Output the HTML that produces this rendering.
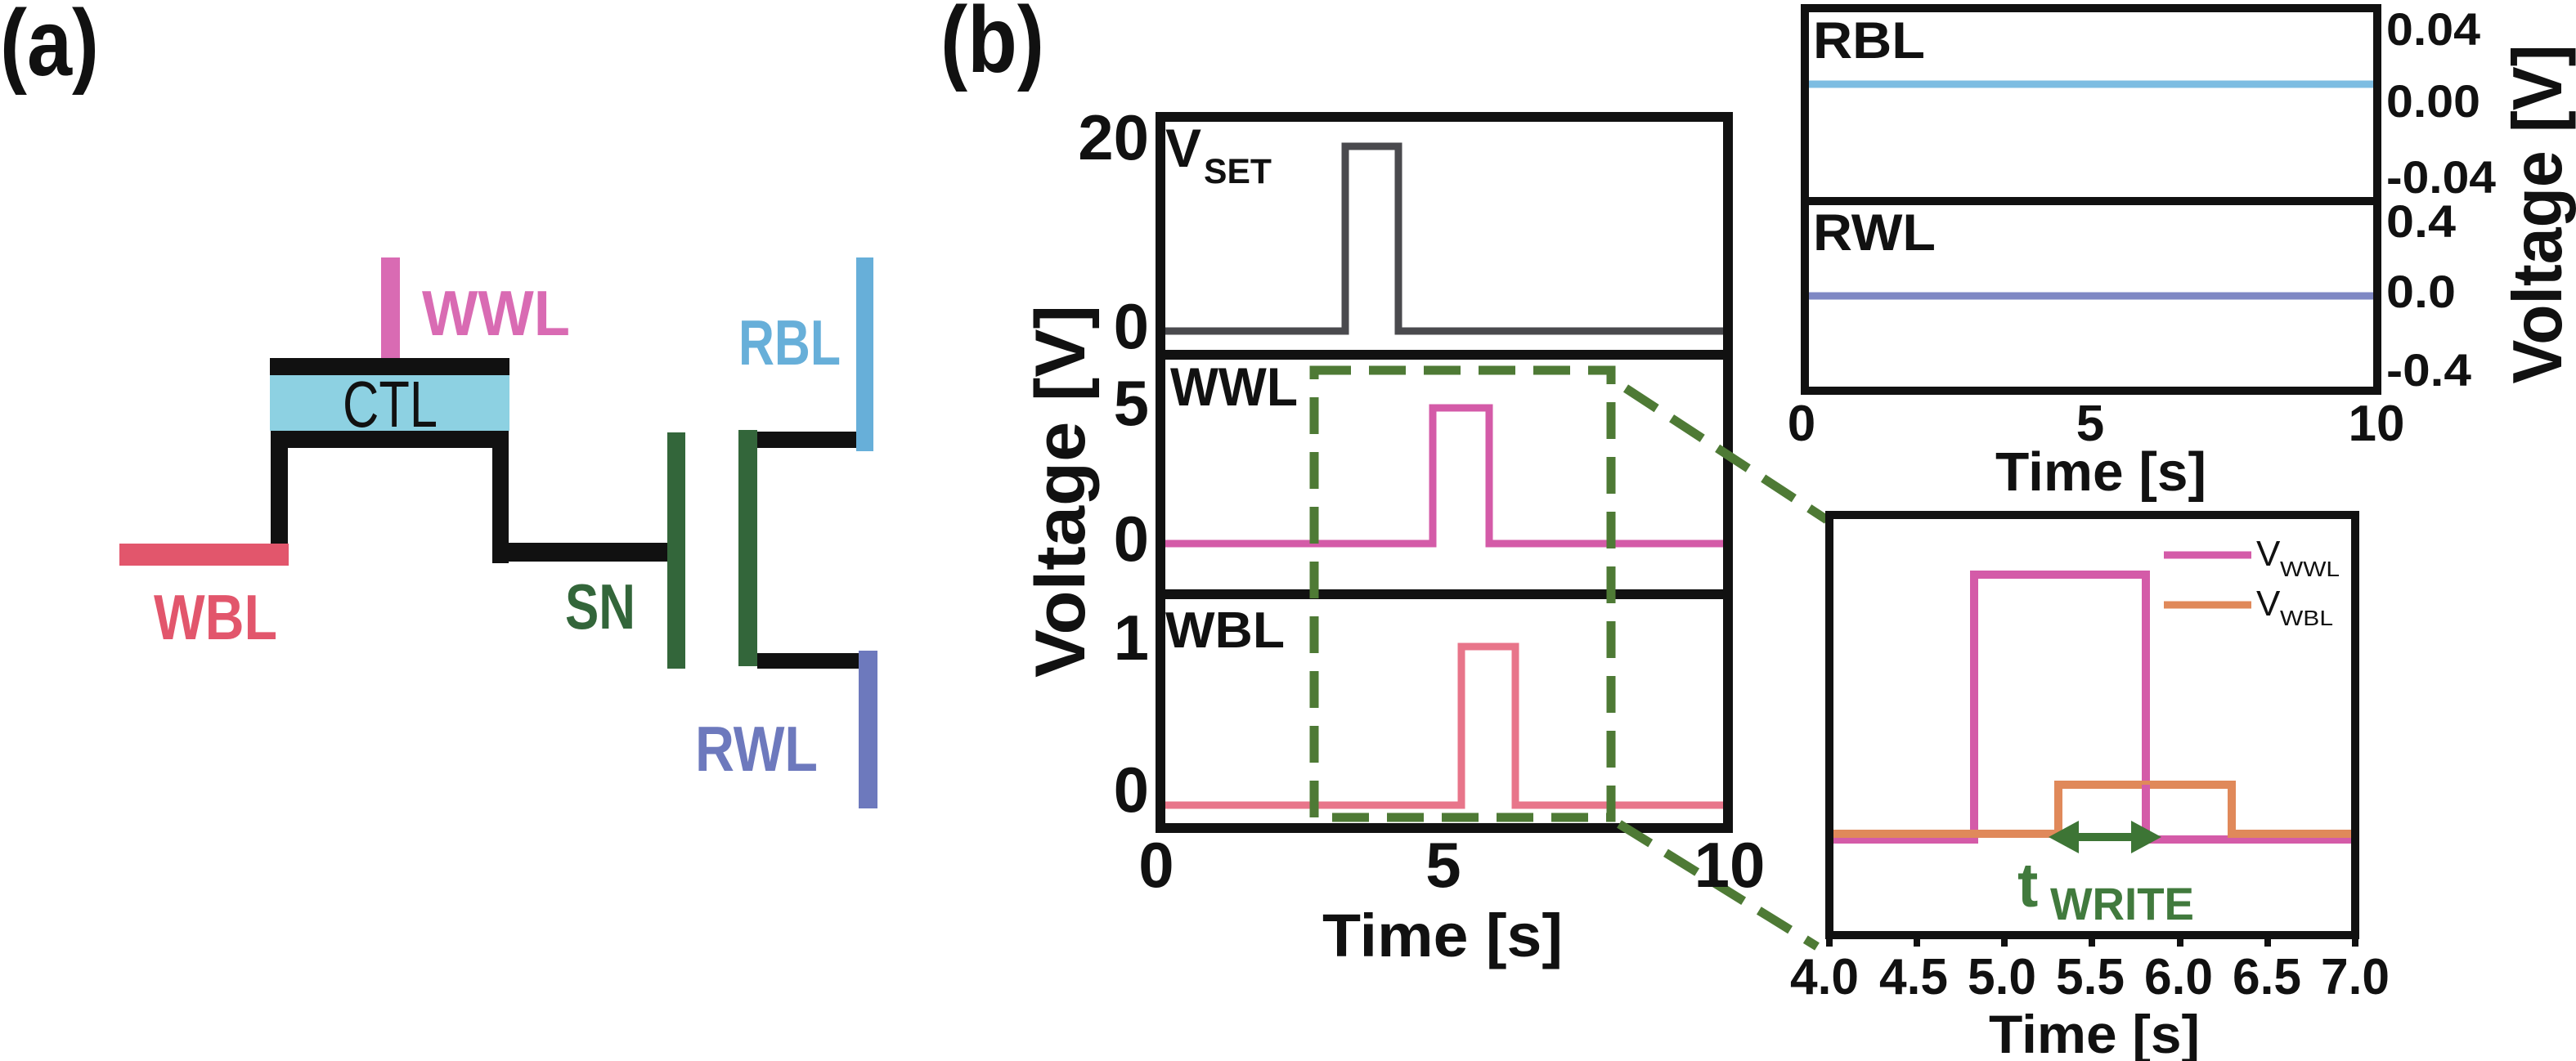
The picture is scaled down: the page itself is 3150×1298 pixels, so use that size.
<!DOCTYPE html>
<html><head><meta charset="utf-8"><style>
html,body{margin:0;padding:0;background:#fff;}
svg{display:block;}
text{font-family:"Liberation Sans",sans-serif;}
.b{font-weight:bold;}
.m{font-weight:600;}
</style></head><body>
<svg width="3150" height="1298" viewBox="0 0 3150 1298" xmlns="http://www.w3.org/2000/svg">
<!-- (a) circuit -->
<text class="b" x="0" y="92" font-size="115" textLength="121" lengthAdjust="spacingAndGlyphs" fill="#111">(a)</text>
<rect x="466" y="315" width="23" height="130" fill="#d96bb3"/>
<rect x="330" y="438" width="293" height="21" fill="#111"/>
<rect x="330" y="459" width="293" height="68" fill="#8dd1e2"/>
<rect x="331" y="527" width="291" height="21" fill="#111"/>
<rect x="331" y="527" width="21" height="144" fill="#111"/>
<rect x="146" y="665" width="207" height="27" fill="#e2566c"/>
<rect x="602" y="527" width="20" height="162" fill="#111"/>
<rect x="602" y="664" width="215" height="23" fill="#111"/>
<rect x="816" y="529" width="22" height="289" fill="#33663a"/>
<rect x="903" y="526" width="23" height="289" fill="#33663a"/>
<rect x="926" y="528" width="122" height="20" fill="#111"/>
<rect x="1047" y="315" width="21" height="237" fill="#67afd9"/>
<rect x="926" y="799" width="125" height="19" fill="#111"/>
<rect x="1050" y="796" width="23" height="193" fill="#6d79bd"/>
<text class="m" x="516" y="410" font-size="78" textLength="181" lengthAdjust="spacingAndGlyphs" fill="#d96bb3">WWL</text>
<text class="m" x="903" y="446" font-size="78" textLength="125" lengthAdjust="spacingAndGlyphs" fill="#67afd9">RBL</text>
<text x="419" y="522" font-size="80" textLength="116" lengthAdjust="spacingAndGlyphs" fill="#111">CTL</text>
<text class="m" x="188" y="782" font-size="78" textLength="151" lengthAdjust="spacingAndGlyphs" fill="#e2566c">WBL</text>
<text class="m" x="691" y="769" font-size="78" textLength="86" lengthAdjust="spacingAndGlyphs" fill="#33663a">SN</text>
<text class="m" x="850" y="943" font-size="78" textLength="150" lengthAdjust="spacingAndGlyphs" fill="#6d79bd">RWL</text>

<!-- (b) -->
<text class="b" x="1150" y="88" font-size="115" textLength="127" lengthAdjust="spacingAndGlyphs" fill="#111">(b)</text>

<!-- left chart traces -->
<g fill="none" stroke-width="9" stroke-linejoin="miter">
<path d="M1425 405 H1645 V179 H1710 V405 H2107" stroke="#4a4a4e"/>
<path d="M1425 665 H1752 V499 H1821 V665 H2107" stroke="#d45ba8"/>
<path d="M1425 985 H1787 V791 H1853 V985 H2107" stroke="#e8758a"/>
</g>
<g fill="none" stroke="#111" stroke-width="12">
<rect x="1419" y="143" width="694" height="870"/>
<line x1="1419" y1="434" x2="2113" y2="434"/>
<line x1="1419" y1="727" x2="2113" y2="727"/>
</g>
<g fill="none" stroke="#4e7a35" stroke-width="11" stroke-dasharray="45 22">
<rect x="1607" y="453" width="363" height="547"/>
<line x1="1988" y1="475" x2="2234" y2="636"/>
<line x1="1980" y1="1008" x2="2222" y2="1158"/>
</g>
<g class="b" font-size="78" fill="#111" text-anchor="end">
<text x="1405" y="195">20</text>
<text x="1405" y="426">0</text>
<text x="1405" y="520">5</text>
<text x="1405" y="686">0</text>
<text x="1405" y="807">1</text>
<text x="1405" y="993">0</text>
</g>
<text class="b" x="1425" y="204" font-size="66" fill="#111">V</text>
<text class="b" x="1472" y="224" font-size="43" textLength="83" lengthAdjust="spacingAndGlyphs" fill="#111">SET</text>
<text class="b" x="1431" y="496" font-size="66" textLength="156" lengthAdjust="spacingAndGlyphs" fill="#111">WWL</text>
<text class="b" x="1425" y="792" font-size="62" textLength="146" lengthAdjust="spacingAndGlyphs" fill="#111">WBL</text>
<text class="b" transform="translate(1326,601) rotate(-90)" x="0" y="0" font-size="86" text-anchor="middle" textLength="456" lengthAdjust="spacingAndGlyphs" fill="#111">Voltage [V]</text>
<g class="b" font-size="78" fill="#111" text-anchor="middle">
<text x="1414" y="1085">0</text>
<text x="1765" y="1085">5</text>
<text x="2115" y="1085">10</text>
</g>
<text class="b" x="1764" y="1170" font-size="74" text-anchor="middle" textLength="294" lengthAdjust="spacingAndGlyphs" fill="#111">Time [s]</text>

<!-- right top chart -->
<line x1="2212" y1="103" x2="2902" y2="103" stroke="#7dbde2" stroke-width="9"/>
<line x1="2212" y1="362" x2="2902" y2="362" stroke="#7f88c4" stroke-width="9"/>
<g fill="none" stroke="#111" stroke-width="10">
<rect x="2207" y="10" width="700" height="468"/>
<line x1="2207" y1="246" x2="2907" y2="246"/>
</g>
<text class="b" x="2217" y="71" font-size="63" textLength="137" lengthAdjust="spacingAndGlyphs" fill="#111">RBL</text>
<text class="b" x="2217" y="306" font-size="63" textLength="150" lengthAdjust="spacingAndGlyphs" fill="#111">RWL</text>
<g class="b" font-size="56" fill="#111">
<text x="2918" y="55" textLength="115" lengthAdjust="spacingAndGlyphs">0.04</text>
<text x="2918" y="143" textLength="115" lengthAdjust="spacingAndGlyphs">0.00</text>
<text x="2918" y="236" textLength="134" lengthAdjust="spacingAndGlyphs">-0.04</text>
<text x="2918" y="290" textLength="85" lengthAdjust="spacingAndGlyphs">0.4</text>
<text x="2918" y="376" textLength="85" lengthAdjust="spacingAndGlyphs">0.0</text>
<text x="2918" y="472" textLength="104" lengthAdjust="spacingAndGlyphs">-0.4</text>
</g>
<text class="b" transform="translate(3132,262) rotate(-90)" x="0" y="0" font-size="85" text-anchor="middle" textLength="415" lengthAdjust="spacingAndGlyphs" fill="#111">Voltage [V]</text>
<g class="b" font-size="62" fill="#111" text-anchor="middle">
<text x="2203" y="539">0</text>
<text x="2556" y="539">5</text>
<text x="2906" y="539">10</text>
</g>
<text class="b" x="2569" y="600" font-size="67" text-anchor="middle" textLength="258" lengthAdjust="spacingAndGlyphs" fill="#111">Time [s]</text>

<!-- inset -->
<g fill="none" stroke-width="10">
<path d="M2242 1027 H2414 V703 H2624 V1027 H2875" stroke="#d45ba8"/>
<path d="M2242 1020 H2517 V960 H2729 V1020 H2875" stroke="#e0895a"/>
<path d="M2414 703 V1012 M2624 960 V1016" stroke="#d45ba8"/>
</g>
<line x1="2646" y1="679" x2="2753" y2="679" stroke="#d45ba8" stroke-width="9"/>
<line x1="2646" y1="740" x2="2753" y2="740" stroke="#e0895a" stroke-width="9"/>
<text x="2759" y="692" font-size="44" fill="#111">V</text>
<text x="2788" y="705" font-size="26" textLength="73" lengthAdjust="spacingAndGlyphs" fill="#111">WWL</text>
<text x="2759" y="753" font-size="44" fill="#111">V</text>
<text x="2788" y="765" font-size="26" textLength="65" lengthAdjust="spacingAndGlyphs" fill="#111">WBL</text>
<line x1="2530" y1="1024" x2="2618" y2="1024" stroke="#3d7535" stroke-width="10"/>
<polygon points="2505,1024 2542,1004 2542,1044" fill="#3d7535"/>
<polygon points="2643,1024 2606,1004 2606,1044" fill="#3d7535"/>
<text class="b" x="2467" y="1109" font-size="76" fill="#417a3d">t</text>
<text class="b" x="2507" y="1125" font-size="56" textLength="176" lengthAdjust="spacingAndGlyphs" fill="#417a3d">WRITE</text>
<rect x="2237" y="630" width="643" height="514" fill="none" stroke="#111" stroke-width="10"/>
<g stroke="#111" stroke-width="8">
<line x1="2237" y1="1144" x2="2237" y2="1158"/>
<line x1="2344" y1="1144" x2="2344" y2="1158"/>
<line x1="2451" y1="1144" x2="2451" y2="1158"/>
<line x1="2558" y1="1144" x2="2558" y2="1158"/>
<line x1="2666" y1="1144" x2="2666" y2="1158"/>
<line x1="2773" y1="1144" x2="2773" y2="1158"/>
<line x1="2880" y1="1144" x2="2880" y2="1158"/>
</g>
<g class="b" font-size="62" fill="#111" text-anchor="middle">
<text x="2231" y="1216" textLength="84" lengthAdjust="spacingAndGlyphs">4.0</text>
<text x="2340" y="1216" textLength="84" lengthAdjust="spacingAndGlyphs">4.5</text>
<text x="2448" y="1216" textLength="84" lengthAdjust="spacingAndGlyphs">5.0</text>
<text x="2556" y="1216" textLength="84" lengthAdjust="spacingAndGlyphs">5.5</text>
<text x="2664" y="1216" textLength="84" lengthAdjust="spacingAndGlyphs">6.0</text>
<text x="2772" y="1216" textLength="84" lengthAdjust="spacingAndGlyphs">6.5</text>
<text x="2880" y="1216" textLength="84" lengthAdjust="spacingAndGlyphs">7.0</text>
</g>
<text class="b" x="2561" y="1288" font-size="66" text-anchor="middle" textLength="258" lengthAdjust="spacingAndGlyphs" fill="#111">Time [s]</text>
</svg>
</body></html>
